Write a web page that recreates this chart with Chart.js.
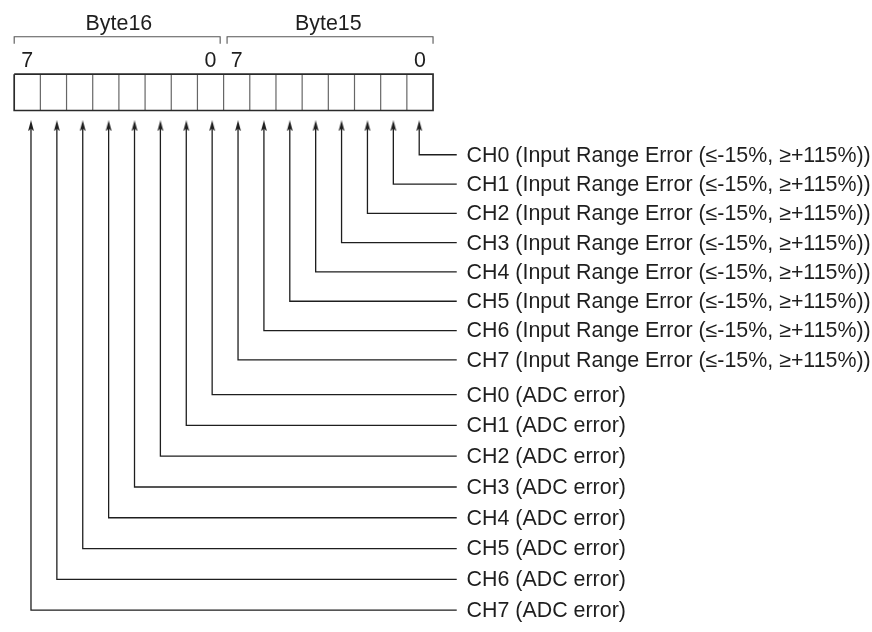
<!DOCTYPE html>
<html>
<head>
<meta charset="utf-8">
<script src="https://cdn.jsdelivr.net/npm/chart.js@4.4.1/dist/chart.umd.min.js"></script>
<style>
  html, body { margin: 0; padding: 0; background: #fff; }
  #wrap { width: 872px; height: 632px; position: relative; }
</style>
</head>
<body>
<div id="wrap"><canvas id="c"></canvas></div>
<script>
// ---------------- data ----------------
const byteLabels = ["Byte16", "Byte15"];
const bitEndLabels = ["7", "0"];            // MSB / LSB shown above each byte
const bitsPerByte = 8;
const rowLabels = [
  "CH0 (Input Range Error (≤-15%, ≥+115%))",
  "CH1 (Input Range Error (≤-15%, ≥+115%))",
  "CH2 (Input Range Error (≤-15%, ≥+115%))",
  "CH3 (Input Range Error (≤-15%, ≥+115%))",
  "CH4 (Input Range Error (≤-15%, ≥+115%))",
  "CH5 (Input Range Error (≤-15%, ≥+115%))",
  "CH6 (Input Range Error (≤-15%, ≥+115%))",
  "CH7 (Input Range Error (≤-15%, ≥+115%))",
  "CH0 (ADC error)",
  "CH1 (ADC error)",
  "CH2 (ADC error)",
  "CH3 (ADC error)",
  "CH4 (ADC error)",
  "CH5 (ADC error)",
  "CH6 (ADC error)",
  "CH7 (ADC error)"
];
// bit index of each row, counted from the LSB of Byte15 (rightmost cell)
const rowBits = [0,1,2,3,4,5,6,7,8,9,10,11,12,13,14,15];

// ---------------- layout ----------------
const L = {
  boxLeft: 9, boxRight: 433, boxTop: 70, boxBottom: 107,
  arrowX0: 26, arrowDX: 26.2, arrowTip: 117, headLen: 11, headW: 6,
  groupTop: [152, 396], groupStep: [29.8, 31.3],
  lineEnd: 457, labelX: 467,
  braceTop: 32, braceBottom: 39, braceGap: 3.5,
  byteLabelY: 19, bitLabelY: 57
};
const nCells = byteLabels.length * bitsPerByte;
const cellW = (L.boxRight - L.boxLeft) / nCells;
function rowY(i) { const g = Math.floor(i / bitsPerByte); return L.groupTop[g] + L.groupStep[g] * (i % bitsPerByte); }
function arrowX(bit) { return L.arrowX0 + L.arrowDX * (nCells - 1 - bit); }

const INK = '#1e1e1e';
const FONT = '21.4px "Liberation Sans", Arial, Helvetica, sans-serif';

// arrowhead image used as point style
const head = document.createElement('canvas');
head.width = 8; head.height = L.headLen;
(function () {
  const g = head.getContext('2d');
  g.fillStyle = INK;
  g.beginPath();
  g.moveTo(4, 0);
  g.lineTo(4 + L.headW / 2, L.headLen);
  g.lineTo(4, L.headLen - 2.5);
  g.lineTo(4 - L.headW / 2, L.headLen);
  g.closePath();
  g.fill();
})();

const datasets = [];
// outer box
datasets.push({
  data: [
    {x: L.boxLeft, y: L.boxTop}, {x: L.boxRight, y: L.boxTop},
    {x: L.boxRight, y: L.boxBottom}, {x: L.boxLeft, y: L.boxBottom},
    {x: L.boxLeft, y: L.boxTop}
  ],
  borderColor: '#2a2a2a', borderWidth: 1.7
});
// cell dividers
const div = [];
for (let k = 1; k < nCells; k++) {
  const x = L.boxLeft + k * cellW;
  div.push({x, y: L.boxTop}, {x, y: L.boxBottom}, {x, y: null});
}
datasets.push({ data: div, borderColor: '#666', borderWidth: 1.2, spanGaps: false });
// byte braces
const br = [];
byteLabels.forEach((b, j) => {
  const x0 = L.boxLeft + j * bitsPerByte * cellW + (j > 0 ? L.braceGap : 0);
  const x1 = L.boxLeft + (j + 1) * bitsPerByte * cellW - (j < byteLabels.length - 1 ? L.braceGap : 0);
  br.push({x: x0, y: L.braceBottom}, {x: x0, y: L.braceTop}, {x: x1, y: L.braceTop}, {x: x1, y: L.braceBottom}, {x: x1, y: null});
});
datasets.push({ data: br, borderColor: '#555', borderWidth: 1.1, spanGaps: false });
// leaders with arrows
rowLabels.forEach((lab, i) => {
  const ax = arrowX(rowBits[i]);
  const y = rowY(i);
  datasets.push({
    data: [{x: ax, y: L.arrowTip + L.headLen / 2}, {x: ax, y: y}, {x: L.lineEnd, y: y}],
    borderColor: INK, borderWidth: 1.3,
    pointStyle: (c) => c.dataIndex === 0 ? head : false,
    pointRadius: (c) => c.dataIndex === 0 ? 3 : 0
  });
});
datasets.forEach(d => { d.showLine = true; d.fill = false; d.tension = 0; if (d.pointRadius === undefined) d.pointRadius = 0; });

const textPlugin = {
  id: 'texts',
  afterDatasetsDraw(chart) {
    const {ctx, scales: {x, y}} = chart;
    ctx.save();
    ctx.fillStyle = INK;
    ctx.font = FONT;
    ctx.textBaseline = 'middle';
    // byte labels
    ctx.textAlign = 'center';
    byteLabels.forEach((b, j) => {
      const cx = L.boxLeft + (j + 0.5) * bitsPerByte * cellW;
      ctx.fillText(b, x.getPixelForValue(cx), y.getPixelForValue(L.byteLabelY));
    });
    // bit numbers at both ends of each byte
    byteLabels.forEach((b, j) => {
      const first = j * bitsPerByte, last = first + bitsPerByte - 1;
      ctx.fillText(bitEndLabels[0], x.getPixelForValue(L.boxLeft + (first + 0.5) * cellW), y.getPixelForValue(L.bitLabelY));
      ctx.fillText(bitEndLabels[1], x.getPixelForValue(L.boxLeft + (last + 0.5) * cellW), y.getPixelForValue(L.bitLabelY));
    });
    // row labels
    ctx.textAlign = 'left';
    rowLabels.forEach((lab, i) => {
      ctx.fillText(lab, x.getPixelForValue(L.labelX), y.getPixelForValue(rowY(i) + 1));
    });
    ctx.restore();
  }
};

new Chart(document.getElementById('c'), {
  type: 'scatter',
  data: { datasets },
  options: {
    responsive: true, maintainAspectRatio: false, animation: false, events: [],
    layout: { padding: 0 },
    plugins: { legend: { display: false }, tooltip: { enabled: false } },
    scales: {
      x: { type: 'linear', min: 0, max: 872, display: false },
      y: { type: 'linear', min: 0, max: 632, reverse: true, display: false }
    }
  },
  plugins: [textPlugin]
});
</script>
</body>
</html>
